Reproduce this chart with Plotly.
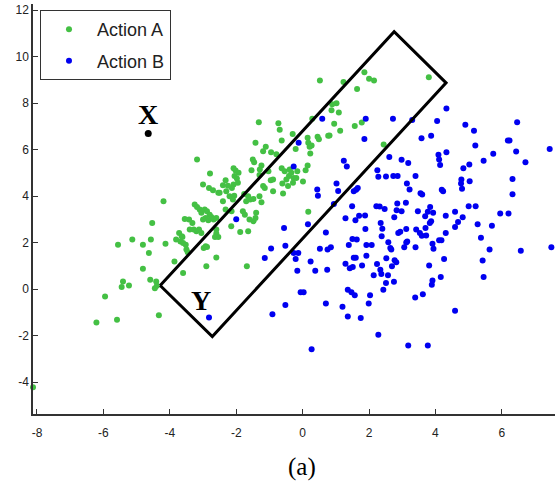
import plotly.graph_objects as go

# ---------------- data ----------------
a_x = [-3.18,-2.79,-3.00,-2.82,-2.70,-2.54,-4.19,-3.25,-3.18,-3.10,-3.05,-2.95,-2.88,-2.80,-2.75,-2.84,-2.92,-3.00,-2.68,-2.60,
       -3.55,-3.42,-3.32,-3.40,-3.28,-3.20,-3.12,-3.05,-4.53,-3.72,-3.64,-3.68,-3.60,-3.52,-3.50,-3.46,-3.62,-3.81,-2.92,-2.98,
       -2.88,-2.60,-2.60,-2.54,-2.64,-4.13,-4.57,-3.86,-3.60,-2.60,-2.90,-4.41,-4.39,
       -2.14,-1.80,-1.74,-1.40,-1.42,-1.48,-1.60,-2.15,-1.88,-1.64,-1.68,-2.32,
       -5.56,-5.13,-4.81,-4.63,-4.81,-5.41,-5.45,-5.23,-5.95,-6.21,-5.59,-4.33,-8.12,-4.59,-4.45,
       0.52,-1.32,-0.73,-0.69,-0.30,-0.63,-1.42,-1.11,-1.19,-0.95,-0.79,-1.50,-1.46,-1.54,-2.08,-2.02,-1.93,-2.05,-1.98,-1.24,
       -1.29,-1.30,-1.03,-0.96,-0.89,-2.32,-2.40,-2.25,-2.08,-2.13,-1.95,-2.50,-2.30,-2.20,-2.06,-2.10,-2.40,-1.76,-1.64,-1.70,
       -1.58,-1.48,-1.30,-1.24,-1.19,-1.14,-0.63,-0.54,-0.39,-0.34,-0.41,-0.49,-0.27,-0.19,-0.16,-0.29,-0.61,-0.44,-0.89,-0.59,
       -0.21,0.15,0.17,0.21,0.23,0.45,0.49,0.77,0.09,0.15,0.01,0.27,
       1.02,0.89,0.87,1.09,0.95,0.81,1.13,1.23,
       1.86,2.00,2.15,1.64,3.80,1.57,1.78,2.44,0.17,0.29]
a_y = [5.57,4.97,4.50,4.35,4.25,4.14,3.78,3.64,3.53,3.42,3.28,3.42,3.35,3.20,3.10,2.96,3.06,2.99,2.99,3.06,
       3.02,2.99,2.84,2.56,2.56,2.49,2.56,2.41,2.84,2.41,2.27,2.05,1.98,1.91,1.70,1.58,2.24,2.13,1.84,1.77,
       1.81,2.56,2.39,2.24,2.24,1.95,2.13,1.19,0.69,1.36,0.98,0.33,0.14,
       3.35,3.35,3.20,3.28,3.06,2.92,2.99,2.70,2.46,2.49,0.98,3.42,
       1.91,2.13,1.91,1.55,0.88,0.33,0.09,0.16,-0.32,-1.44,-1.32,-1.12,-4.22,0.40,0.04,
       8.97,7.17,7.13,6.85,6.67,6.39,6.29,6.12,5.93,5.89,5.80,5.57,5.46,5.11,5.20,5.10,5.00,4.86,4.76,5.32,
       5.14,4.91,5.07,4.68,4.71,4.68,4.47,4.45,4.50,4.35,4.57,4.14,4.21,3.99,4.02,3.85,3.78,4.09,3.99,3.78,
       3.85,3.88,3.99,3.74,4.43,4.35,5.20,5.07,5.14,5.00,4.86,4.71,4.78,4.78,5.07,4.57,4.54,4.43,4.21,4.11,
       6.03,6.51,6.29,6.12,5.83,6.55,6.44,6.59,5.11,5.32,4.63,6.18,
       7.99,7.95,7.69,7.59,7.11,6.61,6.81,8.91,
       9.32,9.05,8.97,8.61,9.11,7.01,7.16,6.22,3.33,7.33]

b_x = [4.33,0.59,1.90,2.72,3.30,4.05,4.90,5.16,6.46,-0.12,1.86,3.58,3.87,5.20,6.18,6.23,7.44,6.43,5.74,4.33,
       4.09,2.61,2.98,3.18,1.24,1.33,4.11,4.14,-0.27,4.84,5.02,5.45,6.71,2.25,2.28,2.51,2.73,2.86,3.40,4.78,
       4.77,5.03,4.80,6.32,1.02,3.14,3.22,1.07,0.44,0.46,1.54,1.61,1.66,3.55,3.60,4.19,4.23,6.32,0.94,1.49,
       2.22,2.32,2.47,2.85,3.11,3.84,5.00,5.21,1.29,1.59,1.70,1.88,2.76,2.83,2.98,3.47,3.77,3.93,3.69,4.31,
       4.59,4.82,5.95,6.20,-0.56,0.16,0.70,1.89,2.35,2.40,2.38,2.88,2.94,3.12,3.42,3.53,3.59,3.70,3.83,3.87,
       3.72,4.31,4.59,5.27,5.70,5.37,-0.52,-0.27,-0.13,-0.21,0.52,0.75,0.85,1.39,1.50,1.63,1.92,2.08,2.58,2.64,
       2.67,3.06,3.12,3.15,3.40,3.91,3.94,4.11,4.18,5.63,6.57,7.49,0.24,0.38,0.74,-0.16,1.29,1.42,1.51,1.54,
       1.60,1.79,1.92,2.24,2.34,2.52,2.69,2.77,2.82,3.81,4.26,5.42,2.14,2.37,2.57,2.51,2.75,2.43,3.91,3.89,
       4.16,5.45,-0.06,0.03,1.36,1.47,1.57,2.03,3.39,3.62,-0.52,0.70,1.20,1.99,4.59,1.36,1.75,2.28,3.18,3.77,
       0.27,4.68,-2.00,-0.95,-1.14,-0.91,-2.82]
b_y = [7.77,7.33,7.33,7.33,7.27,7.23,7.07,6.81,7.17,6.29,6.45,6.49,6.59,6.18,6.39,6.39,6.03,5.92,5.82,5.88,
       5.78,5.68,5.56,5.42,5.52,5.27,5.57,5.34,5.27,5.20,5.36,5.52,5.46,5.11,4.83,4.84,4.86,4.86,4.86,4.71,
       4.54,4.64,4.32,4.74,4.54,4.54,4.28,4.22,4.28,4.02,4.21,4.27,4.35,4.12,4.07,4.27,4.21,4.08,3.66,3.56,
       3.56,3.55,3.45,3.68,3.71,3.53,3.56,3.56,3.05,2.96,3.15,3.17,3.09,3.39,3.35,3.35,3.33,3.28,3.13,3.16,
       3.33,3.09,3.25,3.25,2.63,2.79,2.43,2.59,2.84,2.60,2.27,2.41,2.47,2.59,2.56,2.41,2.30,2.63,2.84,2.92,
       2.31,2.41,2.67,2.79,2.73,2.21,1.87,1.55,1.55,1.29,1.74,1.70,1.80,1.90,2.15,2.13,1.90,1.90,2.02,1.77,
       1.70,1.80,2.00,2.05,1.80,1.95,1.74,2.10,2.10,1.70,1.65,1.80,1.19,0.79,0.83,0.79,1.09,0.90,0.95,1.35,
       1.35,1.02,1.44,1.08,0.83,1.33,0.98,1.24,1.15,1.02,1.29,1.23,0.60,0.65,0.60,0.26,0.32,-0.03,0.37,0.19,
       0.52,0.52,-0.14,-0.14,-0.03,-0.14,-0.26,-0.26,-0.36,-0.22,-0.68,-0.62,-0.76,-0.62,-0.93,-1.18,-1.24,-1.96,-2.42,-2.42,
       -2.59,2.89,3.00,1.75,1.34,-1.08,-1.22]

box_x = [-4.29, 2.756, 4.32, -2.72, -4.29]
box_y = [0.155, 11.07, 8.87, -2.04, 0.155]

point_x = [-4.65]
point_y = [6.69]

x_ticks = [-8, -6, -4, -2, 0, 2, 4, 6]
x_labels = ['-8', '-6', '-4', '-2', '0', '2', '4', '6']
y_ticks = [-4, -2, 0, 2, 4, 6, 8, 10, 12]
y_labels = ['-4', '-2', '0', '2', '4', '6', '8', '10', '12']

green = '#44c044'
blue = '#0000f0'

fig = go.Figure()
fig.add_trace(go.Scatter(x=a_x, y=a_y, mode='markers', name='Action A',
                         marker=dict(color=green, size=6), cliponaxis=False,
                         legendgroup='a'))
fig.add_trace(go.Scatter(x=b_x, y=b_y, mode='markers', name='Action B',
                         marker=dict(color=blue, size=6), cliponaxis=False,
                         legendgroup='b'))
fig.add_trace(go.Scatter(x=box_x, y=box_y, mode='lines', showlegend=False,
                         line=dict(color='black', width=3), hoverinfo='skip'))
fig.add_trace(go.Scatter(x=point_x, y=point_y, mode='markers', showlegend=False,
                         marker=dict(color='black', size=7)))

serif = 'Liberation Serif'
fig.add_annotation(x=-4.65, y=7.53, text='<b>X</b>', showarrow=False,
                   font=dict(family=serif, size=28, color='black'))
fig.add_annotation(x=-3.05, y=-0.50, text='<b>Y</b>', showarrow=False,
                   font=dict(family=serif, size=28, color='black'))
fig.add_annotation(xref='paper', yref='paper', x=0.515, y=-0.129, text='(a)',
                   showarrow=False, yanchor='middle',
                   font=dict(family=serif, size=25, color='black'))

axis_common = dict(showgrid=False, zeroline=False, showline=True,
                   linecolor='#333333', linewidth=1.5, ticks='inside',
                   ticklen=5, tickcolor='#333333', tickwidth=1,
                   tickfont=dict(family='Liberation Sans', size=12, color='#222222'))
fig.update_xaxes(range=[-8.12, 7.6], tickvals=x_ticks, ticktext=x_labels,
                 ticklabelstandoff=7, **axis_common)
fig.update_yaxes(range=[-5.37, 12.26], tickvals=y_ticks, ticktext=y_labels, **axis_common)

fig.update_layout(
    width=555, height=484,
    margin=dict(l=33, r=0, t=4, b=70),
    paper_bgcolor='white', plot_bgcolor='white',
    showlegend=True,
    legend=dict(x=0.0134, y=0.985, xanchor='left', yanchor='top',
                bgcolor='white', bordercolor='#333333', borderwidth=1,
                itemwidth=46,
                font=dict(family='Liberation Sans', size=18, color='#222222'),
                traceorder='grouped', tracegroupgap=5),
)

fig.write_html('out.html')
